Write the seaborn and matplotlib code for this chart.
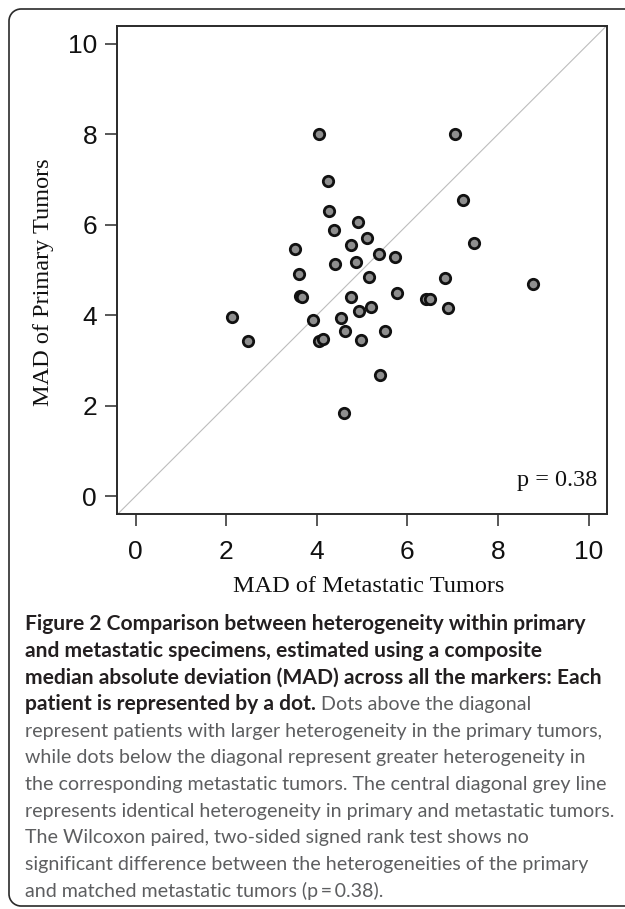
import matplotlib
matplotlib.use("Agg")
import matplotlib.pyplot as plt
import seaborn as sns
import pandas as pd
from matplotlib.patches import Arc

# MAD per patient (x = metastatic, y = primary)
met_mad = [4.05, 7.04, 4.25, 7.22, 4.27, 4.91, 4.38, 5.11, 4.75, 7.48,
           3.53, 5.38, 5.72, 4.41, 4.87, 3.61, 5.15, 6.83, 8.78, 3.63,
           3.67, 4.76, 5.76, 6.41, 6.51, 5.20, 6.90, 4.93, 2.14, 4.53,
           3.91, 2.49, 4.63, 5.50, 4.05, 4.13, 4.97, 5.39, 4.61]
prim_mad = [8.00, 8.00, 6.97, 6.54, 6.31, 6.07, 5.88, 5.70, 5.55, 5.60,
            5.46, 5.36, 5.29, 5.13, 5.17, 4.92, 4.85, 4.82, 4.70, 4.42,
            4.40, 4.41, 4.49, 4.37, 4.35, 4.19, 4.16, 4.10, 3.96, 3.93,
            3.89, 3.44, 3.65, 3.65, 3.43, 3.48, 3.46, 2.67, 1.83]
ticks = [0, 2, 4, 6, 8, 10]
p_text = "p = 0.38"

caption_bold = [
    "Figure 2 Comparison between heterogeneity within primary",
    "and metastatic specimens, estimated using a composite",
    "median absolute deviation (MAD) across all the markers: Each",
    "patient is represented by a dot.",
]
caption_regular = [
    " Dots above the diagonal",
    "represent patients with larger heterogeneity in the primary tumors,",
    "while dots below the diagonal represent greater heterogeneity in",
    "the corresponding metastatic tumors. The central diagonal grey line",
    "represents identical heterogeneity in primary and metastatic tumors.",
    "The Wilcoxon paired, two-sided signed rank test shows no",
    "significant difference between the heterogeneities of the primary",
    "and matched metastatic tumors (p\u2009=\u20090.38).",
]

df = pd.DataFrame({"met": met_mad, "prim": prim_mad})

sns.set_style("ticks")
plt.rcParams["font.family"] = ["Liberation Sans", "DejaVu Sans"]

fig = plt.figure(figsize=(6.25, 9.09), dpi=100)

# background axes in pixel units for the frame and caption
bg = fig.add_axes([0, 0, 1, 1], zorder=-1)
bg.set_xlim(0, 625)
bg.set_ylim(909, 0)
bg.axis("off")
# frame: only the left side is inside the picture, right side runs off
fc = "#2a2a2a"
rad = 12
bg.plot([9 + rad, 640], [9, 9], color=fc, lw=1.2, solid_capstyle="butt")
bg.plot([9, 9], [9 + rad, 906 - rad], color=fc, lw=1.2, solid_capstyle="butt")
bg.plot([9 + rad, 640], [906, 906], color=fc, lw=1.2, solid_capstyle="butt")
bg.add_patch(Arc((9 + rad, 9 + rad), 2 * rad, 2 * rad, theta1=180, theta2=270,
                 color=fc, lw=1.2))
bg.add_patch(Arc((9 + rad, 906 - rad), 2 * rad, 2 * rad, theta1=90, theta2=180,
                 color=fc, lw=1.2))

ax = fig.add_axes([0.1878, 0.4341, 0.7830, 0.5377])
ax.plot([-0.4, 10.4], [-0.4, 10.4], color="#bdbdbd", lw=0.8, zorder=1)
sns.scatterplot(data=df, x="met", y="prim", s=56, color="#8e8e8e",
                edgecolor="#111111", linewidth=2.0, ax=ax, zorder=3)
ax.set_xlim(-0.4, 10.4)
ax.set_ylim(-0.4, 10.4)
ax.set_xticks(ticks)
ax.set_yticks(ticks)
ax.set_xlabel("")
ax.set_ylabel("")
for s in ax.spines.values():
    s.set_visible(True)
    s.set_linewidth(1.4)
    s.set_color("#2a2a2a")
ax.tick_params(axis="both", length=8.6, width=1.1, color="#2a2a2a",
               labelsize=19, labelcolor="#111111")
ax.tick_params(axis="x", pad=10)
ax.tick_params(axis="y", pad=6)
ax.text(10.18, 0.36, p_text, ha="right", va="center", fontsize=17.5,
        family="Liberation Serif", color="#111111")

fig.text(369 / 625, 1 - 587 / 909, "MAD of Metastatic Tumors", ha="center", va="center",
         fontsize=17.5, family="Liberation Serif", color="#111111")
fig.text(44 / 625, 1 - 282 / 909, "MAD of Primary Tumors", ha="center", va="center",
         rotation=90, fontsize=17.5, family="Liberation Serif", color="#111111")

# caption, fitted to the width of the reference lines
cap_font = ["Lato", "DejaVu Sans"]
fig.canvas.draw()
r = fig.canvas.get_renderer()
probe = bg.text(0, 0, caption_bold[2], fontsize=12, fontweight="bold", family=cap_font)
bold_size = 12 * 573 / probe.get_window_extent(r).width
probe.remove()
probe = bg.text(0, 0, caption_regular[4], fontsize=12, fontweight="normal", family=cap_font)
reg_size = 12 * 588 / probe.get_window_extent(r).width
probe.remove()

x0 = 25
base0 = 630
step = 26.67
for i, line in enumerate(caption_bold):
    t = bg.text(x0, base0 + i * step, line, fontsize=bold_size, fontweight="bold",
                family=cap_font, color="#231f20", va="baseline")
w_last = t.get_window_extent(r).width
for j, line in enumerate(caption_regular):
    if j == 0:
        bg.text(x0 + w_last, base0 + 3 * step, line, fontsize=reg_size, fontweight="normal",
                family=cap_font, color="#5d5e60", va="baseline")
    else:
        bg.text(x0, base0 + (3 + j) * step, line, fontsize=reg_size, fontweight="normal",
                family=cap_font, color="#5d5e60", va="baseline")

fig.savefig("out.png", dpi=100)
